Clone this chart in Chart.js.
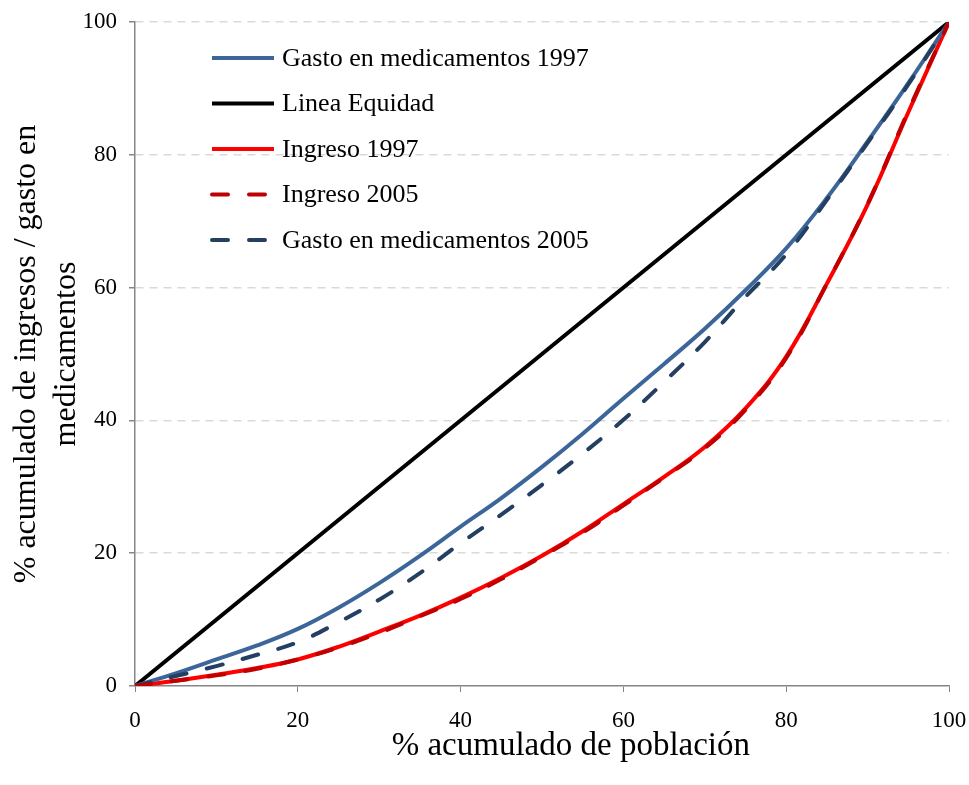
<!DOCTYPE html>
<html>
<head>
<meta charset="utf-8">
<script src="https://cdn.jsdelivr.net/npm/chart.js@4.4.1/dist/chart.umd.min.js"></script>
<style>
    html, body { margin: 0; padding: 0; background: #fff; }
    #wrap { width: 969px; height: 785px; position: relative; }
</style>
</head>
<body>
<div id="wrap"><canvas id="graph"></canvas></div>
<script>
// % acumulado de poblacion (x)
const poblacion = [0, 5, 10, 15, 20, 25, 30, 35, 40, 45, 50, 55, 60, 65, 70, 75, 80, 85, 90, 95, 100];
// curvas de concentracion
const gasto1997 = [0, 1.9, 4.0, 6.1, 8.6, 11.8, 15.5, 19.6, 24.0, 28.3, 33.0, 38.0, 43.3, 48.5, 53.8, 59.6, 65.9, 73.5, 82.0, 90.8, 100];
const gasto2005 = [0, 1.5, 3.0, 4.7, 6.6, 9.6, 13.0, 17.0, 21.5, 25.8, 30.3, 35.0, 40.1, 45.8, 51.8, 58.6, 65.0, 73.2, 81.8, 90.6, 100];
const ingreso1997 = [0, 0.8, 1.7, 2.7, 4.0, 5.9, 8.2, 10.6, 13.3, 16.3, 19.6, 23.3, 27.4, 31.5, 36.0, 41.8, 49.6, 60.6, 72.5, 86.4, 100];
const ingreso2005 = [0, 0.8, 1.6, 2.6, 4.0, 5.8, 8.0, 10.5, 13.1, 16.1, 19.5, 23.1, 27.2, 31.4, 35.8, 41.6, 49.4, 60.6, 72.6, 86.6, 100];
const equidadX = [0, 100];
const equidadY = [0, 100];
const yTicks = [0, 20, 40, 60, 80, 100];
const xTicks = [0, 20, 40, 60, 80, 100];

const serif = "'Liberation Serif', 'Times New Roman', serif";

function toPoints(xs, ys) {
    return xs.map((x, i) => ({ x: x, y: ys[i] }));
}

// legend drawn inside the plot, top left
const insideLegend = {
    id: 'insideLegend',
    afterDraw(chart) {
        const ctx = chart.ctx;
        const area = chart.chartArea;
        const order = [0, 1, 2, 3, 4];
        ctx.save();
        ctx.font = "26px " + serif;
        ctx.textBaseline = 'middle';
        ctx.fillStyle = '#000';
        order.forEach((idx, i) => {
            const ds = chart.data.datasets[idx];
            const y = area.top + 36 + i * 45.5;
            const x0 = area.left + 77;
            ctx.strokeStyle = ds.borderColor;
            ctx.lineWidth = ds.borderWidth;
            ctx.lineCap = ds.borderDash ? 'round' : 'butt';
            ctx.setLineDash(ds.borderDash || []);
            ctx.beginPath();
            ctx.moveTo(x0, y);
            ctx.lineTo(x0 + 62, y);
            ctx.stroke();
            ctx.setLineDash([]);
            ctx.fillText(ds.label, x0 + 70, y + 1);
        });
        ctx.restore();
    }
};

const ctx = document.getElementById('graph').getContext('2d');

const dataChart = new Chart(ctx, {
    type: 'line',
    data: {
        datasets: [
            {
                label: 'Gasto en medicamentos 1997',
                data: toPoints(poblacion, gasto1997),
                borderColor: '#3c6699',
                borderWidth: 4,
                order: 2
            },
            {
                label: 'Linea Equidad',
                data: toPoints(equidadX, equidadY),
                borderColor: '#000000',
                borderWidth: 4,
                order: 3
            },
            {
                label: 'Ingreso 1997',
                data: toPoints(poblacion, ingreso1997),
                borderColor: '#ff0000',
                borderWidth: 4,
                order: 2
            },
            {
                label: 'Ingreso 2005',
                data: toPoints(poblacion, ingreso2005),
                borderColor: '#c00000',
                borderWidth: 4,
                borderDash: [16, 21],
                borderCapStyle: 'round',
                order: 0
            },
            {
                label: 'Gasto en medicamentos 2005',
                data: toPoints(poblacion, gasto2005),
                borderColor: '#243f62',
                borderWidth: 4,
                borderDash: [16, 21],
                borderCapStyle: 'round',
                order: 0
            }
        ]
    },
    options: {
        responsive: true,
        maintainAspectRatio: false,
        animation: false,
        layout: { padding: { left: 0, right: 20, top: 22, bottom: 0 } },
        elements: {
            point: { radius: 0 },
            line: { tension: 0.4, fill: false }
        },
        plugins: {
            legend: { display: false },
            tooltip: { enabled: false }
        },
        scales: {
            x: {
                type: 'linear',
                min: 0,
                max: 100,
                afterBuildTicks: (scale) => { scale.ticks = xTicks.map(v => ({ value: v })); },
                afterFit: (scale) => {
                    scale.height = 99;
                    scale.paddingLeft = 0;
                    scale.paddingRight = 0;
                },
                grid: {
                    drawOnChartArea: false,
                    drawTicks: true,
                    tickLength: 6,
                    tickColor: '#868686',
                    color: '#868686'
                },
                border: { display: true, color: '#868686', width: 1.5 },
                ticks: {
                    color: '#000',
                    padding: 15,
                    maxRotation: 0,
                    font: { family: serif, size: 23 }
                },
                title: {
                    display: true,
                    text: '       % acumulado de población',
                    color: '#000',
                    font: { family: serif, size: 33 },
                    padding: { top: 0, bottom: 19 }
                }
            },
            y: {
                min: 0,
                max: 100,
                afterBuildTicks: (scale) => { scale.ticks = yTicks.map(v => ({ value: v })); },
                afterFit: (scale) => {
                    scale.width = 135;
                    scale.paddingTop = 0;
                    scale.paddingBottom = 0;
                },
                grid: {
                    drawOnChartArea: true,
                    drawTicks: true,
                    tickLength: 6,
                    tickColor: '#868686',
                    color: (c) => c.tick && c.tick.value === 0 ? 'rgba(0,0,0,0)' : '#d9d9d9',
                    lineWidth: 1.5
                },
                border: { display: true, color: '#868686', width: 1.5, dash: [8, 6] },
                ticks: {
                    color: '#000',
                    padding: 12,
                    font: { family: serif, size: 23 }
                },
                title: {
                    display: true,
                    text: ['% acumulado de ingresos / gasto en', 'medicamentos'],
                    color: '#000',
                    font: { family: serif, size: 32, lineHeight: 1.25 },
                    padding: { top: 7, bottom: 0 }
                }
            }
        }
    },
    plugins: [insideLegend]
});
</script>
</body>
</html>
